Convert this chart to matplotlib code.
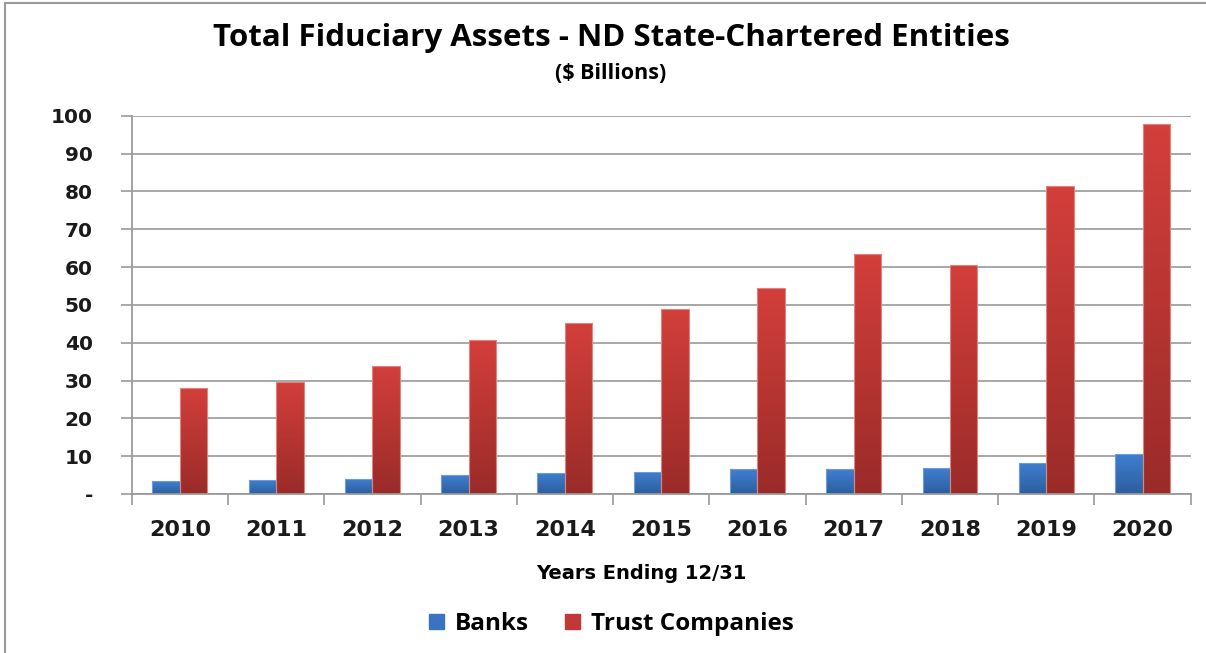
import numpy as np
import matplotlib
matplotlib.use("Agg")
import matplotlib.pyplot as plt
from matplotlib import patches
from matplotlib.colors import LinearSegmentedColormap
from matplotlib.lines import Line2D

# values in $ billions
years = ["2010", "2011", "2012", "2013", "2014", "2015", "2016", "2017", "2018", "2019", "2020"]
banks = [3.4, 3.7, 4.0, 5.0, 5.6, 5.9, 6.5, 6.6, 7.0, 8.3, 10.6]
trust_companies = [28.1, 29.7, 33.9, 40.6, 45.1, 48.8, 54.4, 63.5, 60.6, 81.3, 97.8]
y_ticks = [0, 10, 20, 30, 40, 50, 60, 70, 80, 90, 100]
y_tick_labels = ["-", "10", "20", "30", "40", "50", "60", "70", "80", "90", "100"]

blue_cmap = LinearSegmentedColormap.from_list("b", ["#2D5E9E", "#3F80D2"])
red_cmap = LinearSegmentedColormap.from_list("r", ["#9A2B29", "#D33F3B"])

fig = plt.figure(figsize=(12.06, 6.53), dpi=100)
ax = fig.add_axes([0.1092, 0.2435, 0.9873 - 0.1092, 0.8228 - 0.2435])

x = np.arange(len(years))
width = 0.285
grad = np.linspace(0, 1, 256).reshape(-1, 1)


def gradient_bars(xs, heights, cmap, edge):
    bars = ax.bar(xs, heights, width, color="none", edgecolor=edge, linewidth=0.8, zorder=3)
    for bar in bars:
        bx, by = bar.get_x(), bar.get_y()
        bw, bh = bar.get_width(), bar.get_height()
        img = ax.imshow(grad, cmap=cmap, origin="lower", aspect="auto",
                        extent=[bx, bx + bw, by, by + bh], zorder=2)
        img.set_clip_path(bar)
    return bars


gradient_bars(x - width / 2, banks, blue_cmap, "#6F9BD8")
gradient_bars(x + width / 2, trust_companies, red_cmap, "#E08480")

ax.set_xlim(-0.5, len(years) - 0.5)
ax.set_ylim(0, 100)

ax.set_yticks(y_ticks)
ax.set_yticklabels(y_tick_labels, fontsize=14.5, fontweight="bold", color="#1a1a1a")
ax.set_xticks(x)
ax.set_xticklabels(years, fontsize=16, fontweight="bold", color="#1a1a1a")
ax.set_xticks(np.arange(len(years) + 1) - 0.5, minor=True)
ax.tick_params(axis="x", which="major", length=0, pad=19)
ax.tick_params(axis="x", which="minor", length=8, color="#9a9a9a", width=1.2)
ax.tick_params(axis="y", length=8, color="#9a9a9a", width=1.2, pad=20)

ax.grid(axis="y", color="#a0a0a0", linewidth=1.3, zorder=0)
ax.set_axisbelow(True)
for side in ["top", "right"]:
    ax.spines[side].set_visible(False)
for side in ["left", "bottom"]:
    ax.spines[side].set_color("#9a9a9a")
    ax.spines[side].set_linewidth(1.3)

fig.text(0.507, 0.942, "Total Fiduciary Assets - ND State-Chartered Entities",
         ha="center", va="center", fontsize=22.5, fontweight="bold", family="Open Sans")
fig.text(0.506, 0.887, "($ Billions)", ha="center", va="center",
         fontsize=15.5, fontweight="bold", family="Open Sans")
fig.text(0.532, 0.122, "Years Ending 12/31", ha="center", va="center",
         fontsize=14, fontweight="bold")

handles = [patches.Patch(facecolor="#3A74C0", edgecolor="#3A74C0", label="Banks"),
           patches.Patch(facecolor="#C13836", edgecolor="#C13836", label="Trust Companies")]
fig.legend(handles=handles, loc="center", bbox_to_anchor=(0.507, 0.044), ncol=2,
           frameon=False, prop={"family": "Open Sans", "weight": "bold", "size": 17.5},
           handlelength=0.6, handleheight=0.6, columnspacing=1.5, handletextpad=0.45)

# chart frame (left and top edges visible)
fig.add_artist(Line2D([0.004, 0.004], [0, 0.996], color="#9a9a9a", linewidth=1.5))
fig.add_artist(Line2D([0.004, 1.0], [0.996, 0.996], color="#9a9a9a", linewidth=1.5))

fig.savefig("out.png", dpi=100)
